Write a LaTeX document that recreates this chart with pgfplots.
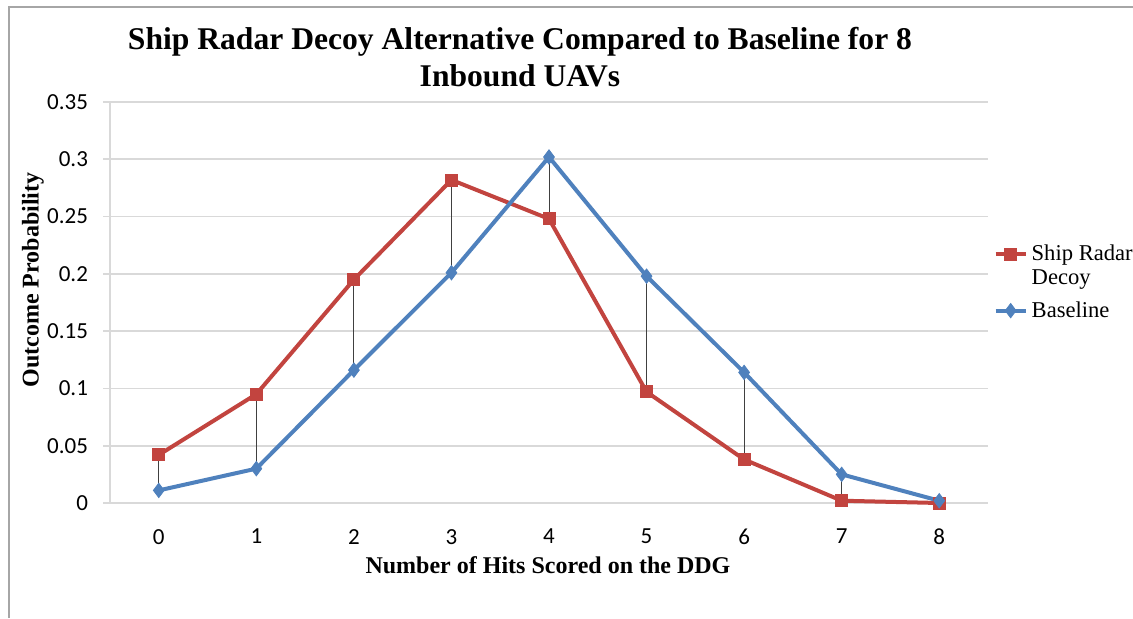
\documentclass[border=0pt]{standalone}
\usepackage{fontspec}
\setmainfont{Liberation Serif}
\newfontfamily\carlito{Carlito}
\usepackage{pgfplots}
\pgfplotsset{compat=1.18}

\definecolor{decoyred}{RGB}{194,68,63}
\definecolor{baseblue}{RGB}{79,129,189}
\definecolor{gridgray}{RGB}{217,217,217}

\begin{document}
\begin{tikzpicture}
% outer chart frame (only top and left edges are visible in the crop)
\draw[gray!70, line width=0.6pt] (4.5pt,0pt) -- (4.5pt,305.5pt) -- (566.5pt,305.5pt);

\begin{axis}[
    at={(55pt,57.5pt)}, anchor=south west,
    scale only axis,
    width=439pt, height=200.5pt,
    xmin=-0.5, xmax=8.5,
    ymin=0, ymax=0.35,
    xtick={0,...,8},
    ytick={0,0.05,0.1,0.15,0.2,0.25,0.3,0.35},
    yticklabels={0,0.05,0.1,0.15,0.2,0.25,0.3,0.35},
    axis lines*=left,
    axis line style={gridgray, line width=0.8pt},
    x axis line style={draw=none},
    ymajorgrids, grid style={gridgray, line width=0.8pt},
    major x tick style={draw=none},
    major y tick style={gridgray, line width=0.8pt},
    tick align=outside, major tick length=3.5pt,
    ticklabel style={font=\carlito\fontsize{11.5}{13}\selectfont, text=black},
    /pgf/number format/assume math mode=true,
    xticklabel style={yshift=-6pt},
    yticklabel style={xshift=-4pt},
    clip=false,
    unbounded coords=jump,
    legend image code/.code={
        \draw[mark repeat=2, mark phase=2] plot coordinates {(0pt,3.5pt) (7.5pt,3.5pt) (15pt,3.5pt)};
    },
    legend style={
        at={(rel axis cs:1.006,0.66)}, anchor=north west,
        draw=none, fill=none,
        font=\fontsize{11.3}{13}\selectfont,
        cells={anchor=base west, inner xsep=0.5pt},
        row sep=15pt, inner sep=0pt,
    },
]
% thin high-low lines between the two series
\addplot[forget plot, black!75, line width=0.45pt] coordinates {
(0,0.011)(0,0.042)(0,nan)
(1,0.030)(1,0.095)(1,nan)
(2,0.116)(2,0.195)(2,nan)
(3,0.201)(3,0.282)(3,nan)
(4,0.302)(4,0.248)(4,nan)
(5,0.198)(5,0.097)(5,nan)
(6,0.114)(6,0.038)(6,nan)
(7,0.025)(7,0.002)(7,nan)
(8,0.002)(8,0.000)
};
\addplot[decoyred, line width=2pt, mark=square*, mark size=3pt,
    mark options={solid, line width=0.4pt}] coordinates {
(0,0.042)(1,0.095)(2,0.195)(3,0.282)(4,0.248)(5,0.097)(6,0.038)(7,0.002)(8,0.000)
};
\addplot[baseblue, line width=2pt, mark=diamond*, mark size=3.6pt,
    mark options={solid, line width=0.4pt}] coordinates {
(0,0.011)(1,0.030)(2,0.116)(3,0.201)(4,0.302)(5,0.198)(6,0.114)(7,0.025)(8,0.002)
};
\legend{\begin{tabular}[t]{@{}l@{}}Ship Radar\\[-1pt]Decoy\end{tabular}, Baseline}
\end{axis}

\node[font=\bfseries\fontsize{15.8}{18.5}\selectfont, align=center] at (260pt,280.5pt)
    {Ship Radar Decoy Alternative Compared to Baseline for 8\\Inbound UAVs};
\node[font=\bfseries\fontsize{12}{14}\selectfont, rotate=90] at (16.5pt,169pt)
    {Outcome Probability};
\node[font=\bfseries\fontsize{12}{14}\selectfont] at (274pt,26.5pt)
    {Number of Hits Scored on the DDG};

\pgfresetboundingbox
\path[use as bounding box] (0pt,0pt) rectangle (566.5pt,309pt);
\end{tikzpicture}
\end{document}
